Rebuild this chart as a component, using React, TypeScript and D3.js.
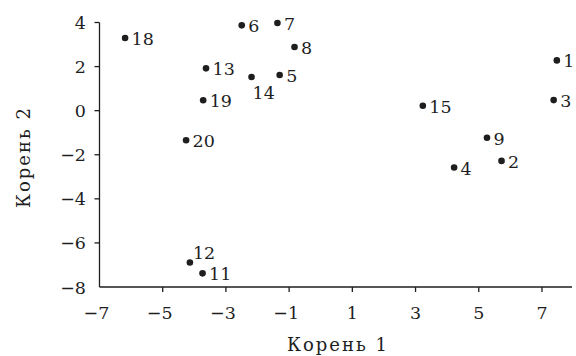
import React, { useRef, useEffect } from "react";
import * as d3 from "d3";

// discriminant scores (root 1, root 2) for each object
const ids = [1, 2, 3, 4, 5, 6, 7, 8, 9, 11, 12, 13, 14, 15, 18, 19, 20];
const root1 = [7.47, 5.72, 7.37, 4.22, -1.3, -2.5, -1.37, -0.83, 5.26, -3.74, -4.14, -3.63, -2.19, 3.23, -6.19, -3.72, -4.26];
const root2 = [2.28, -2.28, 0.48, -2.58, 1.62, 3.87, 3.98, 2.89, -1.23, -7.38, -6.89, 1.92, 1.53, 0.22, 3.3, 0.47, -1.34];
// label placement: "r" = right of point, "b" = below, "t" = above
const labelPos = ["r", "r", "r", "r", "r", "r", "r", "r", "r", "r", "t", "r", "b", "r", "r", "r", "r"];

const xTicks = [-5, -3, -1, 1, 3, 5, 7];
const yTicks = [-6, -4, -2, 0, 2, 4];
const xTickLabels = [-7, -5, -3, -1, 1, 3, 5, 7];
const yTickLabels = [-8, -6, -4, -2, 0, 2, 4];

const FONT = "'DejaVu Serif', serif";
const INK = "#1e1e1e";

function App() {
  const ref = useRef<SVGSVGElement>(null);

  useEffect(() => {
    const width = 576;
    const height = 356;
    const svg = d3.select(ref.current).attr("width", width).attr("height", height);
    svg.selectAll("*").remove();

    const x = d3.scaleLinear().domain([-7, 7.95]).range([99.5, 572]);
    const y = d3.scaleLinear().domain([-8, 4]).range([287, 22.5]);

    const fmt = (d: number) => (d < 0 ? "\u2212" + Math.abs(d) : String(d));

    // axis lines
    svg
      .append("line")
      .attr("x1", x(-7))
      .attr("x2", x(-7))
      .attr("y1", y(4))
      .attr("y2", y(-8))
      .attr("stroke", INK)
      .attr("stroke-width", 1.3);
    svg
      .append("line")
      .attr("x1", x(-7))
      .attr("x2", 572)
      .attr("y1", y(-8))
      .attr("y2", y(-8))
      .attr("stroke", INK)
      .attr("stroke-width", 1.3);

    svg
      .append("g")
      .selectAll("line")
      .data(xTicks)
      .join("line")
      .attr("x1", (d) => x(d))
      .attr("x2", (d) => x(d))
      .attr("y1", y(-8))
      .attr("y2", y(-8) + 5)
      .attr("stroke", INK)
      .attr("stroke-width", 1.3);
    svg
      .append("g")
      .selectAll("line")
      .data(yTicks)
      .join("line")
      .attr("x1", x(-7) - 5)
      .attr("x2", x(-7))
      .attr("y1", (d) => y(d))
      .attr("y2", (d) => y(d))
      .attr("stroke", INK)
      .attr("stroke-width", 1.3);

    svg
      .append("g")
      .selectAll("text")
      .data(xTickLabels)
      .join("text")
      .attr("x", (d) => x(d) - (d < 0 ? 3 : 0))
      .attr("y", 319)
      .attr("text-anchor", "middle")
      .attr("font-family", FONT)
      .attr("font-size", 17.5)
      .attr("fill", INK)
      .text(fmt);
    svg
      .append("g")
      .selectAll("text")
      .data(yTickLabels)
      .join("text")
      .attr("x", 86)
      .attr("y", (d) => y(d) + 6.5)
      .attr("text-anchor", "end")
      .attr("font-family", FONT)
      .attr("font-size", 17.5)
      .attr("fill", INK)
      .text(fmt);

    // axis titles
    svg
      .append("text")
      .attr("x", 337)
      .attr("y", 351)
      .attr("text-anchor", "middle")
      .attr("font-family", FONT)
      .attr("font-size", 18)
      .attr("textLength", 100)
      .attr("fill", INK)
      .text("Корень 1");
    svg
      .append("text")
      .attr("transform", `translate(30, 158) rotate(-90)`)
      .attr("text-anchor", "middle")
      .attr("font-family", FONT)
      .attr("font-size", 18)
      .attr("textLength", 100)
      .attr("fill", INK)
      .text("Корень 2");

    const pts = ids.map((id, i) => ({ id, a: root1[i], b: root2[i], pos: labelPos[i] }));

    svg
      .append("g")
      .selectAll("circle")
      .data(pts)
      .join("circle")
      .attr("cx", (d) => x(d.a))
      .attr("cy", (d) => y(d.b))
      .attr("r", 3.3)
      .attr("fill", INK);

    svg
      .append("g")
      .selectAll("text")
      .data(pts)
      .join("text")
      .attr("x", (d) => x(d.a) + (d.pos === "b" ? 1 : d.pos === "t" ? 3 : 6.5))
      .attr("y", (d) => y(d.b) + (d.pos === "b" ? 22 : d.pos === "t" ? -4 : 7))
      .attr("font-family", FONT)
      .attr("font-size", 17.5)
      .attr("fill", INK)
      .text((d) => d.id);
  }, []);

  return <svg ref={ref} style={{ position: "absolute", left: 0, top: 0 }} />;
}

export default App;
